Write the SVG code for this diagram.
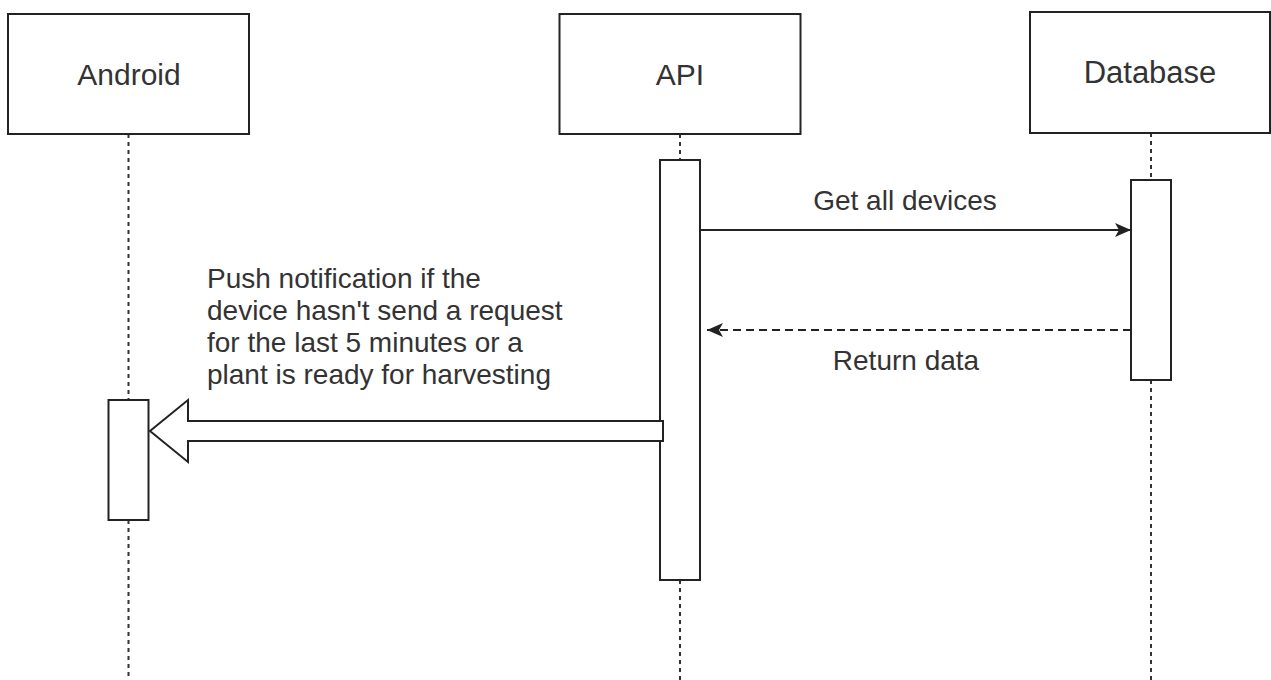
<svg xmlns="http://www.w3.org/2000/svg" width="1271" height="680" viewBox="0 0 1271 680">
  <defs>
    <style>
      .box { fill: #ffffff; stroke: #222222; stroke-width: 2; }
      .act { fill: #ffffff; stroke: #222222; stroke-width: 2; }
      .life { stroke: #333333; stroke-width: 2; stroke-dasharray: 4 4; fill: none; }
      .msg { stroke: #222222; stroke-width: 2; fill: none; }
      .ret { stroke: #222222; stroke-width: 2; fill: none; stroke-dasharray: 8 5; }
      .lbl { font-family: "Liberation Sans", Arial, sans-serif; font-size: 30px; fill: #333333; text-anchor: middle; }
      .mlbl { font-family: "Liberation Sans", Arial, sans-serif; font-size: 28px; fill: #333333; }
    </style>
    <marker id="arrow" markerUnits="userSpaceOnUse" viewBox="0 0 16 14" refX="16" refY="7" markerWidth="16" markerHeight="14" orient="auto">
      <path d="M0,0 L16,7 L0,14 L4,7 Z" fill="#222222"/>
    </marker>
  </defs>

  <g id="lifelines">
    <line class="life" x1="128.5" y1="134" x2="128.5" y2="400"/>
    <line class="life" x1="128.5" y1="520" x2="128.5" y2="680"/>
    <line class="life" x1="680" y1="134" x2="680" y2="160"/>
    <line class="life" x1="680" y1="580" x2="680" y2="680"/>
    <line class="life" x1="1151" y1="133" x2="1151" y2="180"/>
    <line class="life" x1="1151" y1="380" x2="1151" y2="680"/>
  </g>

  <g id="node-android">
    <rect class="box" x="8" y="14" width="241" height="120"/>
    <text class="lbl" x="129" y="85">Android</text>
    <rect class="act" x="108.5" y="400" width="40" height="120"/>
  </g>

  <g id="node-api">
    <rect class="box" x="559.5" y="14" width="241" height="120"/>
    <text class="lbl" x="680" y="85">API</text>
    <rect class="act" x="660" y="160" width="40" height="420"/>
  </g>

  <g id="node-database">
    <rect class="box" x="1030" y="12" width="240" height="121"/>
    <text class="lbl" x="1150" y="83" style="font-size:31px">Database</text>
    <rect class="act" x="1131" y="180" width="40" height="200"/>
  </g>

  <g id="connectors">
    <line class="msg" x1="700" y1="230" x2="1131" y2="230" marker-end="url(#arrow)"/>
    <text class="mlbl" x="905" y="210" text-anchor="middle">Get all devices</text>
    <line class="ret" x1="1131" y1="330" x2="707" y2="330" marker-end="url(#arrow)"/>
    <text class="mlbl" x="906" y="370" text-anchor="middle">Return data</text>
    <path d="M663,421 L188,421 L188,400 L150,431 L188,462 L188,441 L663,441 Z" fill="#ffffff" stroke="#222222" stroke-width="2" stroke-linejoin="miter"/>
    <text class="mlbl" x="207">
      <tspan x="207" y="288">Push notification if the</tspan>
      <tspan x="207" y="320">device hasn't send a request</tspan>
      <tspan x="207" y="352">for the last 5 minutes or a</tspan>
      <tspan x="207" y="384">plant is ready for harvesting</tspan>
    </text>
  </g>
</svg>
